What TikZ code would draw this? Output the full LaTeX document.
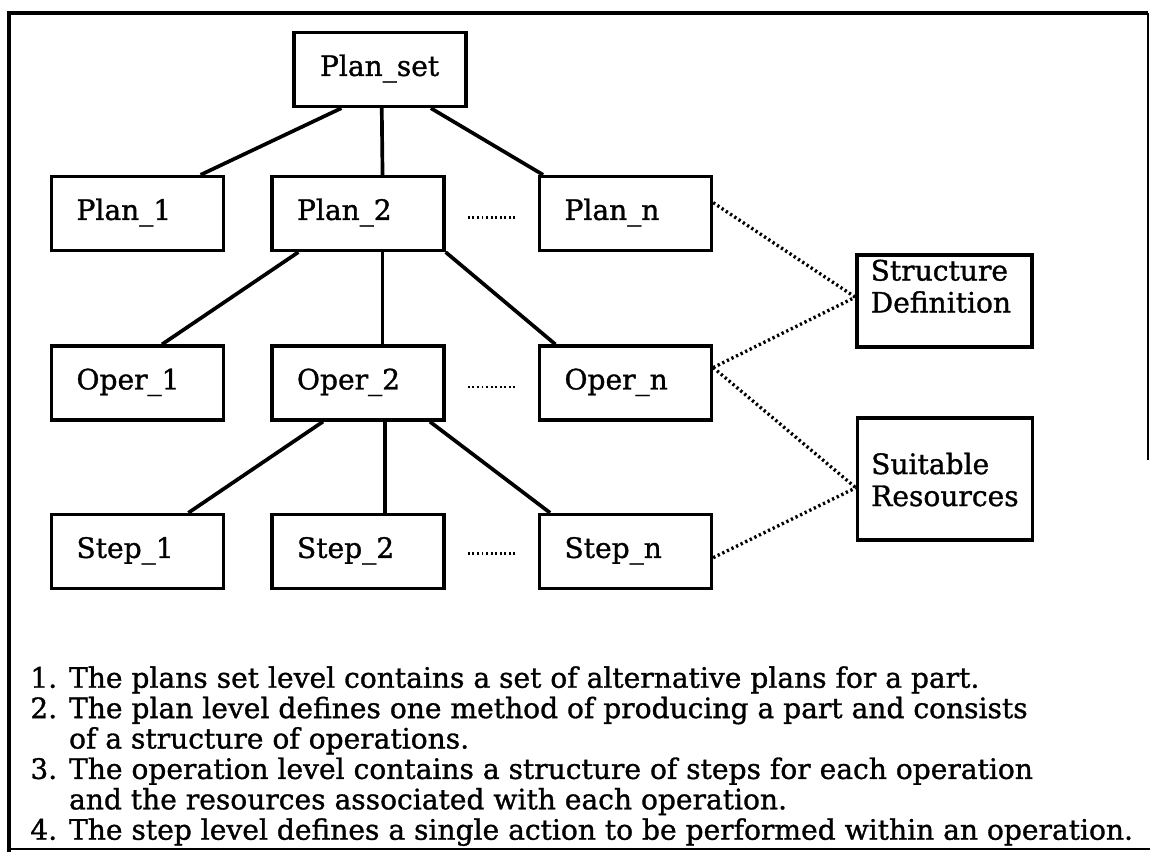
\documentclass[tikz,border=0pt]{standalone}
\usepackage{fontspec}
\setmainfont{DejaVu Serif}[FakeBold=1.1]
\usetikzlibrary{calc}
\newdimen\pxu
\pxu=0.02cm
\begin{document}
\begin{tikzpicture}[x=0.02cm,y=-0.02cm,
  lvlbox/.style={draw, line width=1.9pt, minimum width=172\pxu, minimum height=74\pxu,
    inner xsep=25\pxu, inner ysep=0pt, text width=122\pxu, align=left,
    text height=0.73em, text depth=0pt, font=\fontsize{16}{17.6}\selectfont},
  sidebox/.style={draw, line width=1.9pt, minimum width=175\pxu, inner sep=0pt},
  sidetext/.style={inner sep=0pt, align=left, font=\fontsize{16}{18.2}\selectfont},
  note/.style={inner sep=0pt, align=left, font=\fontsize{16}{17.3}\selectfont},
  tree/.style={line width=2.1pt},
  link/.style={line width=1.9pt, dash pattern=on 1.3pt off 1.6pt},
  ellip/.style={line width=1.3pt, dash pattern=on 1.1pt off 1.5pt},
  frame/.style={line width=2.3pt},
  thinframe/.style={line width=1.1pt}
]
\useasboundingbox (0,0) rectangle (1152,857);

% outer frame
\draw[frame] (9,852) -- (9,13) -- (1148,13);
\draw[thinframe] (1148,13) -- (1148,460);
\draw[thinframe] (9,849) -- (1150,849);

% level boxes
\node[lvlbox, text width=120\pxu, inner xsep=26\pxu] (ps) at (380,69.5) {Plan\_set};
\node[lvlbox] (p1) at (137.5,213.5) {Plan\_1};
\node[lvlbox] (p2) at (358,213.5) {Plan\_2};
\node[lvlbox] (pn) at (625.5,213.5) {Plan\_n};
\node[lvlbox] (o1) at (137.5,383) {Oper\_1};
\node[lvlbox] (o2) at (358,383) {Oper\_2};
\node[lvlbox] (on) at (625.5,383) {Oper\_n};
\node[lvlbox] (s1) at (137.5,551.5) {Step\_1};
\node[lvlbox] (s2) at (358,551.5) {Step\_2};
\node[lvlbox] (sn) at (625.5,551.5) {Step\_n};

% side boxes
\node[sidebox, minimum height=92\pxu] (sd) at (944.5,301) {};
\node[sidetext, anchor=north west] (sdtext) at ($(sd.north west)+(15,6)$) {Structure\\Definition};
\node[sidebox, minimum height=122\pxu] (sr) at (945,479) {};
\node[sidetext, anchor=north west] (srtext) at ($(sr.north west)+(15,36)$) {Suitable\\Resources};

% tree connectors
\draw[tree] ($(ps.south west)!0.28!(ps.south east)$) -- ($(p1.north west)!0.86!(p1.north east)$);
\draw[tree] ($(ps.south west)!0.51!(ps.south east)$) -- ($(p2.north west)!0.64!(p2.north east)$);
\draw[tree] ($(ps.south west)!0.79!(ps.south east)$) -- ($(pn.north west)!0.03!(pn.north east)$);

\draw[tree] ($(p2.south west)!0.16!(p2.south east)$) -- ($(o1.north west)!0.64!(o1.north east)$);
\draw[tree] ($(p2.south west)!0.64!(p2.south east)$) -- ($(o2.north west)!0.64!(o2.north east)$);
\draw[tree] (p2.south east) -- ($(on.north west)!0.10!(on.north east)$);

\draw[tree] ($(o2.south west)!0.30!(o2.south east)$) -- ($(s1.north west)!0.79!(s1.north east)$);
\draw[tree] ($(o2.south west)!0.655!(o2.south east)$) -- ($(s2.north west)!0.655!(s2.north east)$);
\draw[tree] ($(o2.south west)!0.91!(o2.south east)$) -- ($(sn.north west)!0.07!(sn.north east)$);

% elided siblings
\draw[ellip] ($(p2.east)!0.24!(pn.west)+(0,4)$) -- ($(p2.east)!0.76!(pn.west)+(0,4)$);
\draw[ellip] ($(o2.east)!0.24!(on.west)+(0,4)$) -- ($(o2.east)!0.76!(on.west)+(0,4)$);
\draw[ellip] ($(s2.east)!0.24!(sn.west)+(0,2)$) -- ($(s2.east)!0.76!(sn.west)+(0,2)$);

% associations with the side boxes
\draw[link] ($(pn.north east)!0.36!(pn.south east)$) -- ($(sd.north west)!0.46!(sd.south west)$);
\draw[link] ($(on.north east)!0.30!(on.south east)$) -- ($(sd.north west)!0.46!(sd.south west)$);
\draw[link] ($(on.north east)!0.30!(on.south east)$) -- ($(sr.north west)!0.57!(sr.south west)$);
\draw[link] ($(sn.north east)!0.58!(sn.south east)$) -- ($(sr.north west)!0.57!(sr.south west)$);

% level descriptions
\node[note, anchor=north west] (notes) at (30,666) {%
1. The plans set level contains a set of alternative plans for a part.\\
2. The plan level defines one method of producing a part and consists\\
\hphantom{2. }of a structure of operations.\\
3. The operation level contains a structure of steps for each operation\\
\hphantom{3. }and the resources associated with each operation.\\
4. The step level defines a single action to be performed within an operation.};
\end{tikzpicture}
\end{document}
